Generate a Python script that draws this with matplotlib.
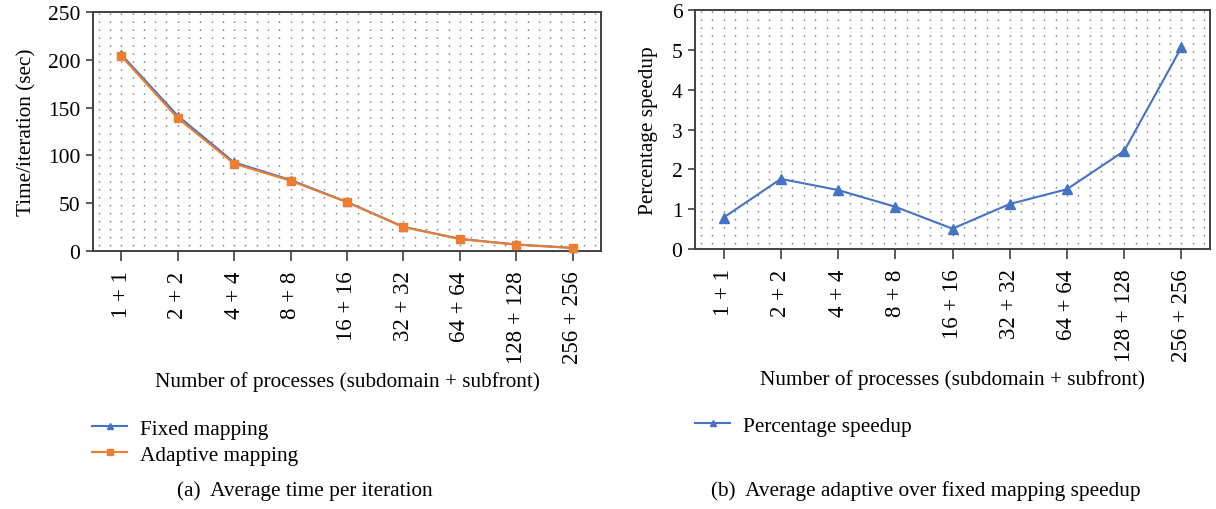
import matplotlib
matplotlib.use("Agg")
import matplotlib.pyplot as plt
from matplotlib.ticker import MultipleLocator

categories = ["1 + 1", "2 + 2", "4 + 4", "8 + 8", "16 + 16", "32 + 32",
              "64 + 64", "128 + 128", "256 + 256"]
fixed_mapping = [205.6, 141.5, 92.7, 74.3, 51.3, 25.3, 12.7, 6.8, 3.3]
adaptive_mapping = [204.0, 139.0, 91.3, 73.5, 51.0, 25.0, 12.5, 6.6, 3.1]
speedup = [0.79, 1.76, 1.48, 1.06, 0.51, 1.13, 1.50, 2.46, 5.06]

left_yticks = [0, 50, 100, 150, 200, 250]
right_yticks = [0, 1, 2, 3, 4, 5, 6]

BLUE = "#4472C4"
ORANGE = "#ED7D31"
SPINE = "#404040"

plt.rcParams["font.family"] = ["Liberation Serif", "DejaVu Serif"]
FS = 15.3
XT_FS = 16.5
YT_FS = 15.5

W, H = 1216, 510
fig = plt.figure(figsize=(W / 100, H / 100), dpi=100)


def px_axes(x0, y0, x1, y1):
    return fig.add_axes([x0 / W, 1 - y1 / H, (x1 - x0) / W, (y1 - y0) / H])


def style(ax, yticks):
    n = len(categories)
    x = list(range(n))
    ax.set_xlim(-0.5, n - 0.5)
    ax.set_ylim(yticks[0], yticks[-1])
    ax.set_yticks(yticks)
    ax.set_xticks(x)
    ax.set_xticklabels(categories, rotation=90, fontsize=XT_FS)
    ax.xaxis.set_minor_locator(MultipleLocator(0.2))
    ax.tick_params(axis="x", which="major", direction="out", length=7,
                   width=1.2, color=SPINE, pad=7)
    ax.tick_params(axis="x", which="minor", length=0)
    ax.tick_params(axis="y", direction="out", length=5, width=1.2,
                   color=SPINE, pad=4, labelsize=YT_FS)
    ax.grid(True, which="both", axis="x", color="#444444", linewidth=1.0,
            linestyle=(2, (0.75, 5.0)))
    ax.set_axisbelow(True)
    for s in ax.spines.values():
        s.set_color(SPINE)
        s.set_linewidth(1.4)
    ax.set_xlabel("Number of processes (subdomain + subfront)", fontsize=FS,
                  labelpad=6)
    return x


# (a)
ax1 = px_axes(93, 13, 601, 252)
x = style(ax1, left_yticks)
l1, = ax1.plot(x, fixed_mapping, color=BLUE, lw=1.5, marker="^", ms=6,
               zorder=3, clip_on=False)
l2, = ax1.plot(x, adaptive_mapping, color=ORANGE, lw=1.5, marker="s", ms=6,
               zorder=4, clip_on=False)
ax1.set_ylabel("Time/iteration (sec)", fontsize=FS, labelpad=8)

# (b)
ax2 = px_axes(695, 11, 1210, 250)
x = style(ax2, right_yticks)
l3, = ax2.plot(x, speedup, color=BLUE, lw=1.5, marker="^", ms=7, zorder=3,
               clip_on=False)
ax2.set_ylabel("Percentage speedup", fontsize=FS, labelpad=10)

fig.legend([l1, l2], ["Fixed mapping", "Adaptive mapping"], loc="upper left",
           bbox_to_anchor=(92 / W, 1 - 420 / H), frameon=False, fontsize=FS,
           borderpad=0, borderaxespad=0, handlelength=1.65,
           markerscale=0.75, labelspacing=0.28, handletextpad=0.6)
fig.legend([l3], ["Percentage speedup"], loc="upper left",
           bbox_to_anchor=(695 / W, 1 - 417 / H), frameon=False, fontsize=FS,
           borderpad=0, borderaxespad=0, handlelength=1.65,
           markerscale=0.65, handletextpad=0.6)

fig.text(305 / W, 1 - 491 / H, "(a)  Average time per iteration",
         ha="center", va="center", fontsize=FS)
fig.text(926 / W, 1 - 491 / H, "(b)  Average adaptive over fixed mapping speedup",
         ha="center", va="center", fontsize=FS)

fig.savefig("out.png", dpi=100)
